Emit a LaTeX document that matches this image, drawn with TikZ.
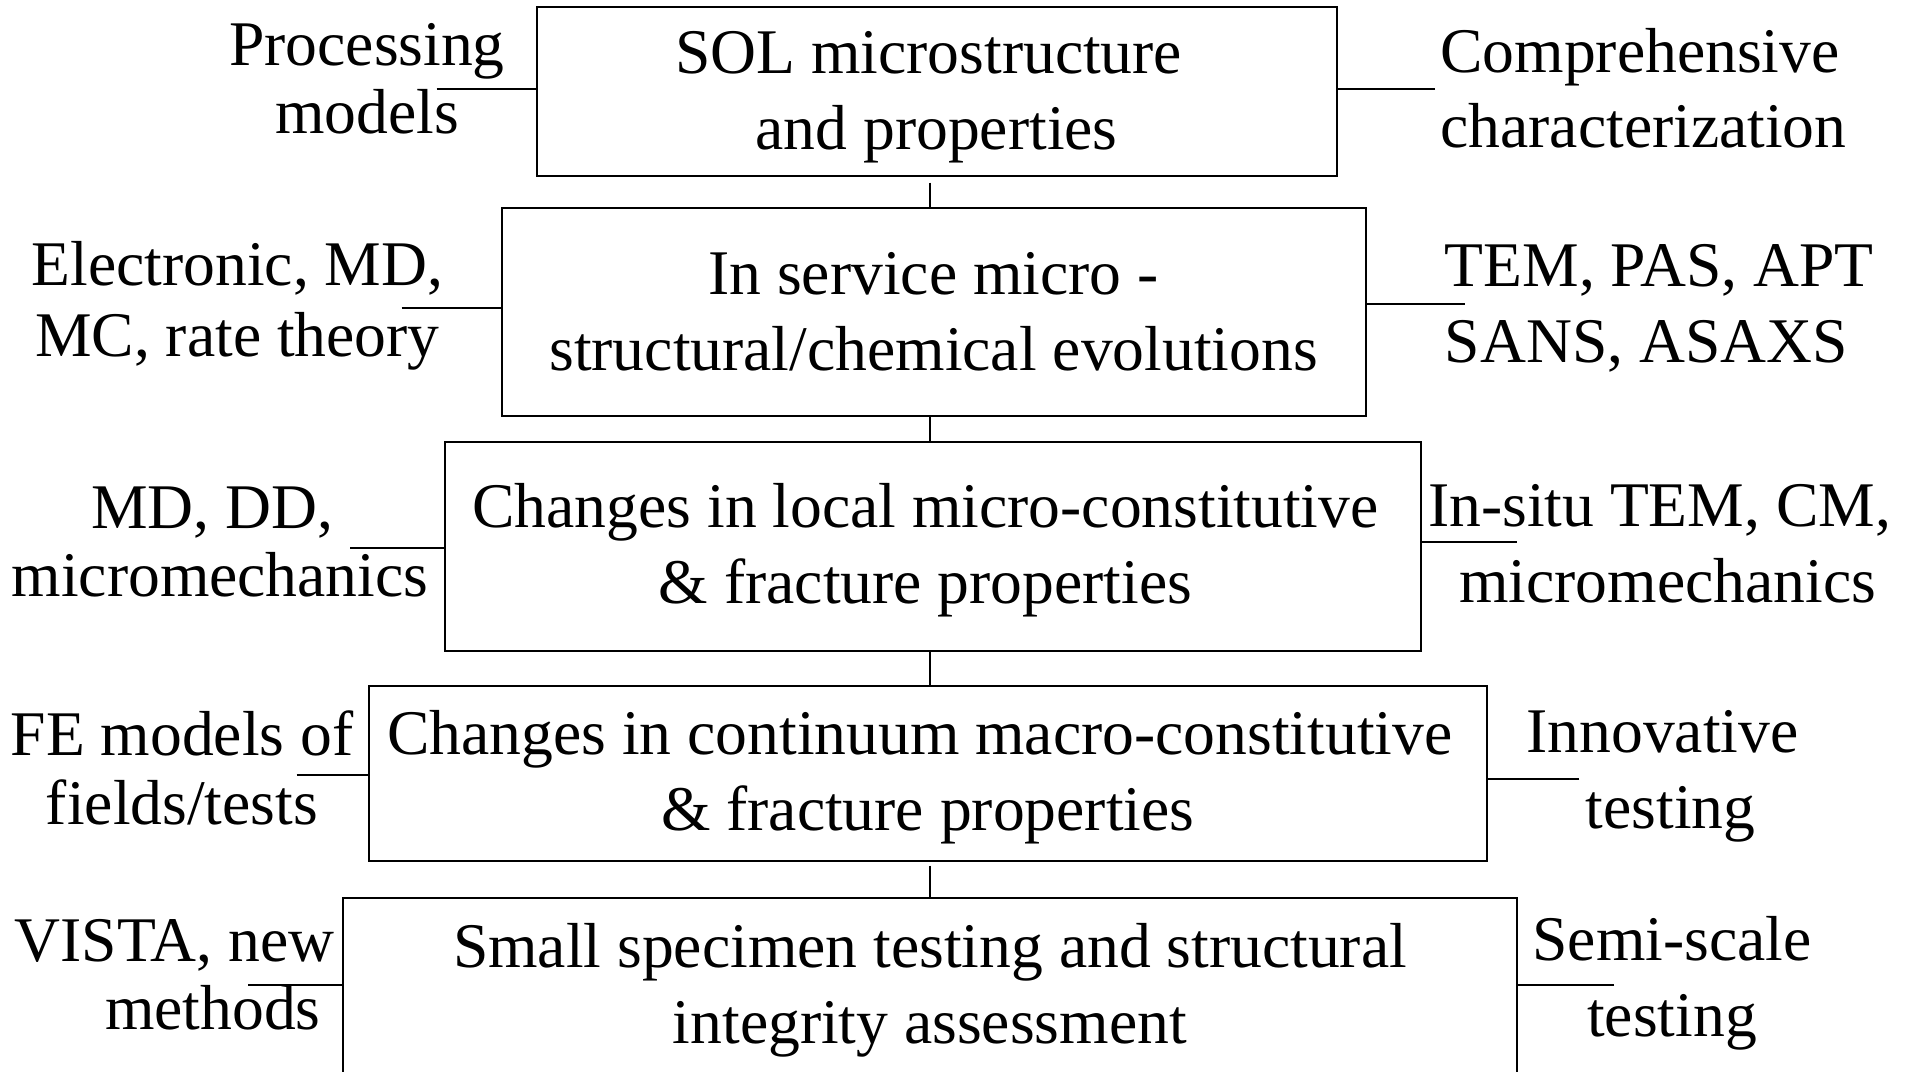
\documentclass[tikz,border=0pt]{standalone}
\usepackage{fontspec}
\setmainfont{Liberation Serif}
\begin{document}
\begin{tikzpicture}[x=0.5pt,y=-0.5pt,
  box/.style={draw, line width=1pt, inner sep=0pt, align=center,
    font=\fontsize{31.8}{38}\selectfont},
  lbl/.style={inner sep=0pt, align=center, font=\fontsize{31.8}{34.1}\selectfont},
  rlbl/.style={inner sep=0pt, align=center, font=\fontsize{31.8}{38}\selectfont},
  conn/.style={line width=1pt}]
\path[use as bounding box] (0,0) rectangle (1914,1071);
\clip (0,0) rectangle (1914,1071);
\fill[white] (0,0) rectangle (1914,1071);

% main boxes
\node[box, minimum width=400.1pt, minimum height=84.2pt] (B1) at (936.6,91.5)
  {\rule{0pt}{26.7pt}SOL microstructure\hspace*{0.25em}\\and properties};
\node[box, minimum width=432pt, minimum height=103.85pt] (B2) at (933.5,312.2)
  {In service micro -\\structural/chemical evolutions};
\node[box, minimum width=488pt, minimum height=104.4pt] (B3) at (932.5,546.4)
  {\rule{0pt}{25.7pt}Changes in local micro-constitutive\hspace*{7pt}\\\& fracture properties\hspace*{7pt}};
\node[box, minimum width=559.15pt, minimum height=87.5pt] (B4) at (927.7,773.1)
  {\rule{0pt}{25.7pt}Changes in continuum macro-constitutive\hspace*{0.25em}\\\& fracture properties};
\node[box, minimum width=586.65pt, minimum height=87.85pt] (B5) at (929.9,986.2)
  {\rule{0pt}{25.7pt}Small specimen testing and structural\\integrity assessment};

% vertical spine
\coordinate (sp) at (930,0);
\draw[conn, shorten <=3pt] (B1.south -| sp) -- (B2.north -| sp);
\draw[conn] (B2.south -| sp) -- (B3.north -| sp);
\draw[conn] (B3.south -| sp) -- (B4.north -| sp);
\draw[conn, shorten <=2pt] (B4.south -| sp) -- (B5.north -| sp);

% left labels
\node[lbl] (T1) at (367,78.7) {Processing\\models};
\node[lbl, font=\fontsize{31.8}{35.5}\selectfont] (T2) at (237.5,305.7) {Electronic, MD,\\MC, rate theory};
\node[lbl] (T3) at (220,541.8) {MD, DD,\hspace*{0.25em}\\micromechanics};
\node[lbl] (T4) at (182,768) {FE models of\\fields/tests};
\node[lbl, align=right, anchor=east] (T5) at (335,974.7) {VISTA, new\\methods\hspace*{7pt}};

% right labels
\node[rlbl, align=left, anchor=west, font=\fontsize{31.8}{37.5}\selectfont] (S1) at (1440,87.9) {Comprehensive\\characterization};
\node[rlbl, align=left, anchor=west] (S2) at (1444.5,308.3) {TEM, PAS, APT\\SANS, ASAXS};
\node[rlbl] (S3) at (1667.5,543.7) {In-situ TEM, CM,\hspace*{0.25em}\\micromechanics};
\node[rlbl] (S4) at (1670.5,776) {Innovative\hspace*{0.25em}\\testing};
\node[rlbl] (S5) at (1672,983) {Semi-scale\\testing};

% side connectors
\coordinate (L1) at (436.7,89);
\coordinate (R1) at (1435,89.3);
\coordinate (L2) at (401.7,308);
\coordinate (R2) at (1464.5,303.5);
\coordinate (L3) at (350,548);
\coordinate (R3) at (1516.7,541.6);
\coordinate (L4) at (296.7,775);
\coordinate (R4) at (1579.3,778.7);
\coordinate (L5) at (248.3,985);
\coordinate (R5) at (1614,984.8);
\draw[conn] (L1) -- (L1 -| B1.west);
\draw[conn] (R1) -- (R1 -| B1.east);
\draw[conn] (L2) -- (L2 -| B2.west);
\draw[conn] (R2) -- (R2 -| B2.east);
\draw[conn] (L3) -- (L3 -| B3.west);
\draw[conn] (R3) -- (R3 -| B3.east);
\draw[conn] (L4) -- (L4 -| B4.west);
\draw[conn] (R4) -- (R4 -| B4.east);
\draw[conn] (L5) -- (L5 -| B5.west);
\draw[conn] (R5) -- (R5 -| B5.east);
\end{tikzpicture}
\end{document}
